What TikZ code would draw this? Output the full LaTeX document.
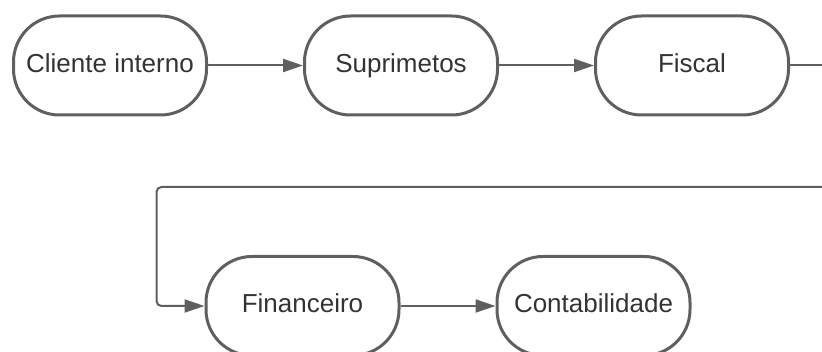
\documentclass[tikz,border=0pt]{standalone}
\usepackage{xcolor}
\usepackage{fontspec}
\setmainfont{Liberation Sans}
\usepackage{tikz}
\usetikzlibrary{arrows.meta,positioning}

\definecolor{linegray}{HTML}{5F5F5F}
\definecolor{textgray}{HTML}{333333}

\begin{document}
\begin{tikzpicture}[
  x=1pt, y=1pt,
  n/.style={draw=linegray, line width=3pt, rounded corners=46pt, align=center,
    font=\fontsize{26}{30}\selectfont, text=textgray, inner sep=0pt,
    text height=19pt, text depth=5pt,
    minimum width=193pt, minimum height=99pt},
  arr/.style={-{Triangle[length=20pt, width=13pt]}, draw=linegray, line width=2pt}
]
\useasboundingbox (0,0) rectangle (822,-352);
\clip (0,0) rectangle (822,-352);
\node[n] (ci) at (110,-65.5) {Cliente interno};
\node[n, right=95pt of ci] (sup) {Suprimetos};
\node[n, right=95pt of sup] (fis) {Fiscal};
\node[n] (fin) at (302.5,-306) {Financeiro};
\node[n, right=95pt of fin] (cont) {Contabilidade};
\coordinate (out) at (840,-65.5);
\coordinate (in) at (840,-187);
\draw[arr] (ci) -- (sup);
\draw[arr] (sup) -- (fis);
\draw[draw=linegray, line width=2pt] (fis) -- (out);
\draw[arr, rounded corners=5pt] (in) -| ([xshift=-48pt]fin.west) -- (fin);
\draw[arr] (fin) -- (cont);
\end{tikzpicture}
\end{document}
